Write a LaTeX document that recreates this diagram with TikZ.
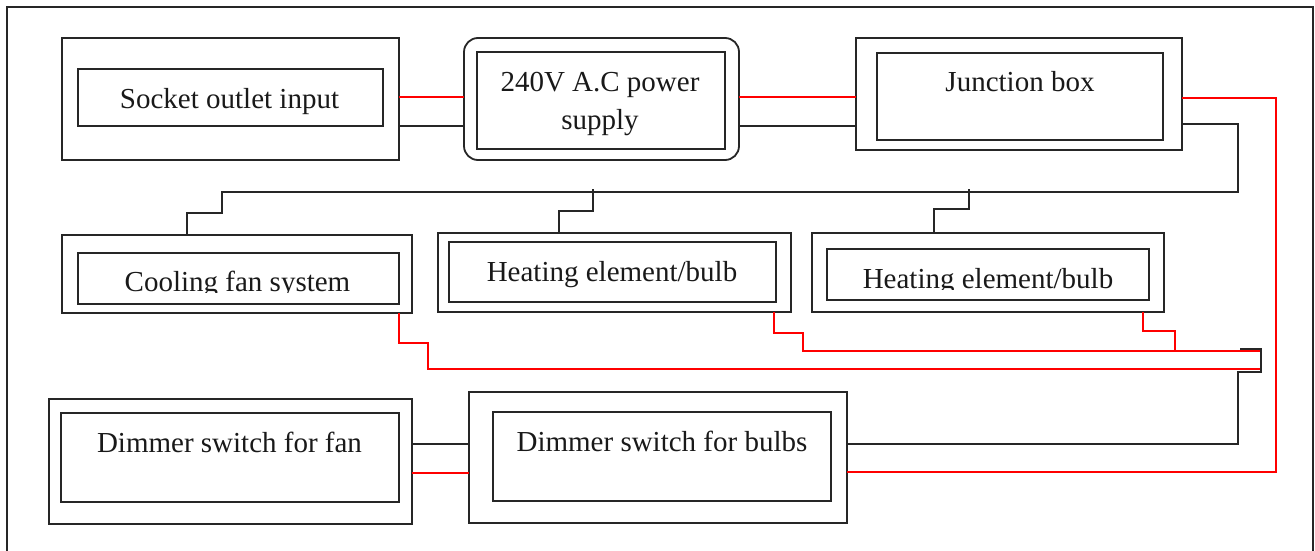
\documentclass[tikz,border=0pt]{standalone}
\usepackage{fontspec}
\setmainfont{Liberation Serif}
\begin{document}
\begin{tikzpicture}[x=1pt,y=-1pt,
  box/.style={draw=black!85, line width=1.8pt, rectangle, inner sep=0pt, outer sep=0pt},
  lbl/.style={font=\fontsize{29}{38}\selectfont, inner sep=0pt, anchor=base, text=black!90},
  wire/.style={draw=black!85, line width=1.5pt},
  redw/.style={draw=red, line width=1.4pt},
  redthick/.style={draw=red, line width=2.6pt}]
\useasboundingbox (0,0) rectangle (1315,551);
\clip (0,0) rectangle (1315,551);
% frame
\draw[draw=black!85, line width=1.5pt] (7,7) rectangle (1313,600);

% top row
\node[box, minimum width=337pt, minimum height=122pt] (socO) at (230.5,99) {};
\node[box, minimum width=305pt, minimum height=57pt] (socI) at (230.5,97.5) {};
\node[lbl] (socT) at (229.5,108) {Socket outlet input};

\node[box, rounded corners=14pt, minimum width=275pt, minimum height=122pt] (powO) at (601.5,99) {};
\node[box, minimum width=248pt, minimum height=97pt] (powI) at (601,100.5) {};
\node[lbl, anchor=center, align=center] (powT) at (600,104.4) {240V A.C power\\supply};

\node[box, minimum width=326pt, minimum height=112pt] (junO) at (1019,94) {};
\node[box, minimum width=286pt, minimum height=87pt] (junI) at (1020,96.5) {};
\node[lbl] (junT) at (1020,92) {Junction box};

% middle row
\node[box, minimum width=350pt, minimum height=78pt] (coO) at (237,274) {};
\node[box, minimum width=321pt, minimum height=51pt] (coI) at (238.5,278.5) {};
\begin{scope}
\clip (79,254) rectangle (398,292);
\node[lbl] (coT) at (237.5,291) {Cooling fan system};
\end{scope}

\node[box, minimum width=353pt, minimum height=79pt] (h1O) at (614.5,272.5) {};
\node[box, minimum width=327pt, minimum height=60pt] (h1I) at (612.5,272) {};
\node[lbl] (h1T) at (612,281) {Heating element/bulb};

\node[box, minimum width=352pt, minimum height=79pt] (h2O) at (988,272.5) {};
\node[box, minimum width=322pt, minimum height=51pt] (h2I) at (988,274.5) {};
\begin{scope}
\clip (828,250) rectangle (1148,289);
\node[lbl] (h2T) at (988,288) {Heating element/bulb};
\end{scope}

% bottom row
\node[box, minimum width=363pt, minimum height=125pt] (dfO) at (230.5,461.5) {};
\node[box, minimum width=338pt, minimum height=89pt] (dfI) at (230,457.5) {};
\node[lbl] (dfT) at (229.5,452) {Dimmer switch for fan};

\node[box, minimum width=378pt, minimum height=131pt] (dbO) at (658,457.5) {};
\node[box, minimum width=338pt, minimum height=89pt] (dbI) at (662,456.5) {};
\node[lbl] (dbT) at (662,451) {Dimmer switch for bulbs};

% top connections
\draw[redw, line width=2pt] (socO.east |- 0,97) -- (powO.west |- 0,97);
\draw[wire] (socO.east |- 0,126) -- (powO.west |- 0,126);
\draw[redw, line width=2pt] (powO.east |- 0,97) -- (junO.west |- 0,97);
\draw[wire] (powO.east |- 0,126) -- (junO.west |- 0,126);

% red main feed from junction box
\coordinate (rc) at (1276,472);
\draw[redthick] (junO.east |- 0,98) -| (rc) -- (dbO.east |- rc);

% black distribution from junction box
\draw[wire] (junO.east |- 0,124) -- (1238,124) -- (1238,192) -- (222,192)
  -- (222,213) -- (187,213) -- (coO.north -| 187,0);
\draw[wire] (593,189) -- (593,211) -- (559,211) -- (h1O.north -| 559,0);
\draw[wire] (969,189) -- (969,209) -- (934,209) -- (h2O.north -| 934,0);

% red returns
\draw[redw] (coO.south -| coI.east) -- (399,343) -- (428,343) -- (428,369) -- (1261,369);
\draw[redw] (h1O.south -| 774,0) -- (774,333) -- (803,333) -- (803,351) -- (1261,351);
\draw[redw] (h2O.south -| 1143,0) -- (1143,331) -- (1175,331) -- (1175,351);

% black bracket and return to dimmer
\draw[wire, line width=1.8pt] (1240,349) -- (1261,349) -- (1261,372) -- (1238,372)
  -- (1238,444) -- (dbO.east |- 0,444);

% between dimmers
\draw[wire] (dfO.east |- 0,444) -- (dbO.west |- 0,444);
\draw[redthick] (dfO.east |- 0,473) -- (dbO.west |- 0,473);
\end{tikzpicture}
\end{document}
